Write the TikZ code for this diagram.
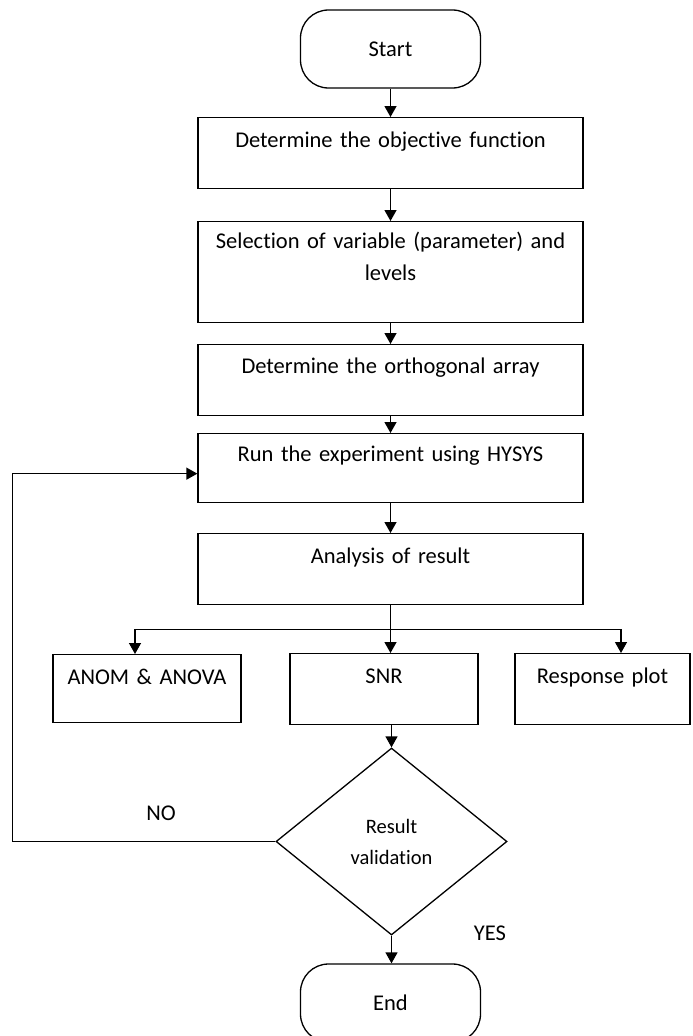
\documentclass[tikz,border=0pt]{standalone}
\usepackage{fontspec}
\setmainfont[Ligatures=NoCommon]{Carlito}
\usetikzlibrary{shapes.geometric,arrows.meta}

\begin{document}
\begin{tikzpicture}[x=1pt,y=-1pt,line width=1.3pt]
      \tikzset{every node/.style={font=\fontsize{22.5}{32}\selectfont},
        box/.style={draw=black, rectangle, anchor=north, minimum width=385pt, text width=375pt,
          align=center, inner sep=0pt, text height=30pt, text depth=41pt},
        term/.style={draw=black, rectangle, rounded corners=28pt, minimum width=180pt, minimum height=78pt},
        arr/.style={-{Triangle[length=11pt,width=12pt]}}}
      \path[use as bounding box] (0,0) rectangle (693,1036);

      \node[term] (start) at (390.5,49) {Start};
      \node[box] (obj) at (390.5,117) {Determine the objective function};
      \node[box, text height=27pt, text depth=74pt] (sel) at (390.5,221) {Selection of variable (parameter) and\\levels};
      \node[box, text height=29pt, text depth=42pt] (orth) at (390.5,344) {Determine the orthogonal array};
      \node[box, text height=28pt] (run) at (390.5,433) {Run the experiment using HYSYS};
      \node[box] (res) at (390.5,533) {Analysis of result};

      \node[box, minimum width=188pt, text width=180pt, text depth=38pt] (anom) at (147,654) {ANOM \& ANOVA};
      \node[box, minimum width=188pt, text width=180pt] (snr) at (384,653) {SNR};
      \node[box, minimum width=175pt, text width=170pt] (resp) at (602.5,653) {Response plot};

      \node[draw=black, diamond, minimum width=231pt, minimum height=187pt, inner sep=0pt, align=center,
        font=\fontsize{20.5}{31}\selectfont] (val) at (391.5,841.5) {Result\\validation};
      \node[term] (end) at (390.5,1003) {End};
      \node (no) at (161,813) {NO};
      \node (yes) at (490,933) {YES};

      \draw[arr] (start) -- (obj);
      \draw[arr] (obj) -- (sel);
      \draw[arr] (sel) -- (orth);
      \draw[arr] (orth) -- (run);
      \draw[arr] (run) -- (res);
      \draw (res.south) -- ++(0,24) coordinate (split);
      \draw[arr] (split) -- (snr.north -| split);
      \draw[arr] (split) -| ([xshift=-12pt]anom.north);
      \draw[arr] (split) -| ([xshift=18.5pt]resp.north);
      \draw[arr] (val.north |- snr.south) -- (val.north);
      \draw[arr] (val.south) -- (val.south |- end.north);
      \draw[arr] (val.west) -- ++(-263,0) |- ([yshift=-5.5pt]run.west);
    \end{tikzpicture}
\end{document}
